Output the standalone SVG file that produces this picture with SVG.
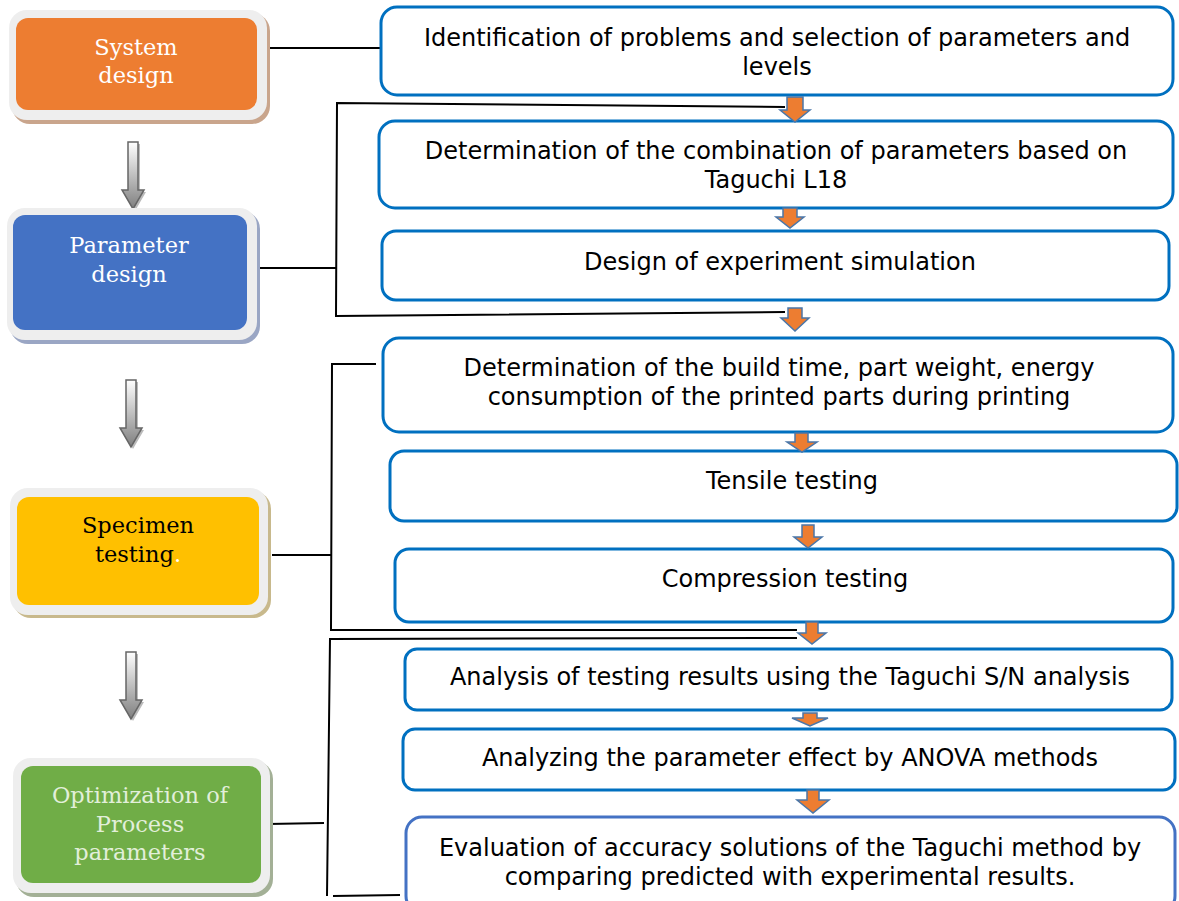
<svg xmlns="http://www.w3.org/2000/svg" width="1179" height="901" viewBox="0 0 1179 901">
<style>
.box{fill:#fff;stroke:#0070C0;stroke-width:3}
.t{font-family:"DejaVu Sans","Verdana",sans-serif;font-size:24px;fill:#000;text-anchor:middle}
.st{font-family:"DejaVu Serif","Liberation Serif",serif;font-size:22.5px;text-anchor:middle}
.frame{fill:#EEEEEE}
.ln{stroke:#000;stroke-width:2;fill:none}
.oa{fill:#ED7D31;stroke:#4A76A8;stroke-width:1.5}
.ga{fill:url(#gg);stroke:#666;stroke-width:1.5}
</style>
<defs>
<linearGradient id="gg" x1="0" y1="0" x2="0" y2="1">
<stop offset="0" stop-color="#ffffff"/>
<stop offset="1" stop-color="#7f7f7f"/>
</linearGradient>
<path id="garrow" d="M-5,0 h10 v48 h6 l-11,19 l-11,-19 h6 z"/>
</defs>
<g id="connectors">
<line class="ln" x1="268" y1="48" x2="381" y2="48"/>
<polyline class="ln" points="785,107 337,103 336,316 785,312"/>
<line class="ln" x1="254" y1="268" x2="336" y2="268"/>
<polyline class="ln" points="376,364 332,364 331,630 797,630"/>
<line class="ln" x1="272" y1="555" x2="331" y2="555"/>
<polyline class="ln" points="797,638 330,639 327,896"/>
<line class="ln" x1="333" y1="896" x2="400" y2="895"/>
<line class="ln" x1="268" y1="824" x2="324" y2="823"/>
</g>
<g id="gray-arrows">
<g transform="translate(133,142)"><use href="#garrow" transform="translate(2,2)" fill="#bbb" stroke="none"/><use href="#garrow" class="ga"/></g>
<g transform="translate(131,380)"><use href="#garrow" transform="translate(2,2)" fill="#bbb" stroke="none"/><use href="#garrow" class="ga"/></g>
<g transform="translate(131,652)"><use href="#garrow" transform="translate(2,2)" fill="#bbb" stroke="none"/><use href="#garrow" class="ga"/></g>
</g>
<g id="n-system">
<rect x="12" y="13" width="258" height="111" rx="18" fill="#C9A58C"/>
<rect class="frame" x="9" y="10" width="258" height="110" rx="18"/>
<rect x="16" y="18" width="241" height="92" rx="12" fill="#ED7D31"/>
<text class="st" x="136" y="55" fill="#fff">System</text>
<text class="st" x="136" y="83" fill="#fff">design</text>
</g>
<g id="n-parameter">
<rect x="10" y="211" width="250" height="133" rx="18" fill="#9AA6C4"/>
<rect class="frame" x="7" y="208" width="250" height="132" rx="18"/>
<rect x="13" y="215" width="234" height="115" rx="12" fill="#4472C4"/>
<text class="st" x="129" y="253" fill="#fff">Parameter</text>
<text class="st" x="129" y="282" fill="#fff">design</text>
</g>
<g id="n-specimen">
<rect x="13" y="491" width="258" height="127" rx="18" fill="#C8B98C"/>
<rect class="frame" x="10" y="488" width="258" height="127" rx="18"/>
<rect x="17" y="497" width="242" height="108" rx="12" fill="#FFC000"/>
<text class="st" x="138" y="533" fill="#000">Specimen</text>
<text class="st" x="138" y="562" fill="#000">testing<tspan fill="#fff">.</tspan></text>
</g>
<g id="n-optimization">
<rect x="16" y="761" width="257" height="136" rx="18" fill="#A3B096"/>
<rect class="frame" x="13" y="758" width="257" height="135" rx="18"/>
<rect x="21" y="766" width="240" height="117" rx="12" fill="#70AD47"/>
<text class="st" x="140" y="803" fill="#E2EFDA">Optimization of</text>
<text class="st" x="140" y="832" fill="#E2EFDA">Process</text>
<text class="st" x="140" y="860" fill="#E2EFDA">parameters</text>
</g>
<g id="b1"><rect class="box" x="381" y="7" width="792" height="88" rx="16"/>
<text class="t" x="777" y="46">Identification of problems and selection of parameters and</text>
<text class="t" x="777" y="75">levels</text></g>
<g id="b2"><rect class="box" x="379" y="121" width="794" height="87" rx="16"/>
<text class="t" x="776" y="159">Determination of the combination of parameters based on</text>
<text class="t" x="776" y="188">Taguchi L18</text></g>
<g id="b3"><rect class="box" x="382" y="231" width="787" height="69" rx="14"/>
<text class="t" x="780" y="270">Design of experiment simulation</text></g>
<g id="b4"><rect class="box" x="383" y="338" width="790" height="94" rx="16"/>
<text class="t" x="779" y="376">Determination of the build time, part weight, energy</text>
<text class="t" x="779" y="405">consumption of the printed parts during printing</text></g>
<g id="b5"><rect class="box" x="390" y="451" width="787" height="70" rx="14"/>
<text class="t" x="792" y="489">Tensile testing</text></g>
<g id="b6"><rect class="box" x="395" y="549" width="778" height="73" rx="14"/>
<text class="t" x="785" y="587">Compression testing</text></g>
<g id="b7"><rect class="box" x="405" y="649" width="767" height="61" rx="12"/>
<text class="t" x="790" y="685">Analysis of testing results using the Taguchi S/N analysis</text></g>
<g id="b8"><rect class="box" x="403" y="729" width="772" height="61" rx="12"/>
<text class="t" x="790" y="766">Analyzing the parameter effect by ANOVA methods</text></g>
<g id="b9"><rect class="box" x="406" y="817" width="769" height="95" rx="16" style="stroke:#4472C4"/>
<text class="t" x="790" y="856">Evaluation of accuracy solutions of the Taguchi method by</text>
<text class="t" x="790" y="885">comparing predicted with experimental results.</text></g>
<g id="orange-arrows">
<path class="oa" d="M787,97 h16 v13 h7 l-15,12 l-15,-12 h7 z"/>
<path class="oa" d="M783,208 h14 v9 h7 l-14,11 l-14,-11 h7 z"/>
<path class="oa" d="M788,308 h14 v10 h7 l-14,13 l-14,-13 h7 z"/>
<path class="oa" d="M795,433 h13 v9 h9 l-15,10 l-15,-10 h8 z"/>
<path class="oa" d="M802,525 h12 v12 h8 l-14,11 l-14,-11 h8 z"/>
<path class="oa" d="M806,622 h12 v11 h8 l-14,11 l-14,-11 h8 z"/>
<path class="oa" d="M803,713 h14 v5 h11 l-18,8 l-18,-8 h11 z"/>
<path class="oa" d="M807,790 h12 v10 h10 l-16,13 l-16,-13 h10 z"/>
</g>
</svg>
